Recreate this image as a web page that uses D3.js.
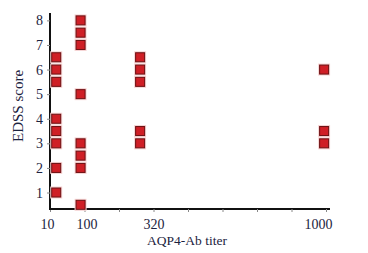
<!DOCTYPE html>
<html>
<head>
<meta charset="utf-8">
<script src="https://cdn.jsdelivr.net/npm/d3@7"></script>
<style>
  body { margin: 0; background: #fff; }
  text { font-family: "Liberation Serif", "DejaVu Serif", serif; fill: #1c2340; }
</style>
</head>
<body>
<div id="chart"></div>
<script>
var svgWidth = 368;
var svgHeight = 253;

// titer groups and EDSS scores
var titers = [10, 10, 10, 10, 10, 10, 10, 10,
              100, 100, 100, 100, 100, 100, 100, 100,
              320, 320, 320, 320, 320,
              1000, 1000, 1000];
var edss = [6.5, 6, 5.5, 4, 3.5, 3, 2, 1,
            8, 7.5, 7, 5, 3, 2.5, 2, 0.5,
            6.5, 6, 5.5, 3.5, 3,
            6, 3.5, 3];

var xTickLabels = ["10", "100", "", "320", "", "", "", "", "1000"];
var yTicks = [1, 2, 3, 4, 5, 6, 7, 8];

var svg = d3.select("#chart")
  .append("svg")
  .attr("width", svgWidth)
  .attr("height", svgHeight);

var xScale = d3.scaleLinear()
  .domain([-13, 1007])
  .range([50, 326]);

var yScale = d3.scaleLinear()
  .domain([0.33, 8.3])
  .range([209, 13]);

// nine evenly spaced ticks along the x axis
var xTicks = d3.range(9).map(i => -13 + i * 127.5);

// x axis
var xAxis = svg.append("g")
  .attr("transform", "translate(0, 209)")
  .call(d3.axisBottom(xScale)
    .tickValues(xTicks)
    .tickSize(3)
    .tickSizeOuter(0)
    .tickFormat((d, i) => xTickLabels[i]));
xAxis.select(".domain")
  .attr("stroke", "#111")
  .attr("stroke-width", 2)
  .attr("d", "M50,0H330");
xAxis.selectAll(".tick line").attr("stroke", "#888");
xAxis.selectAll(".tick text")
  .attr("font-size", 14)
  .attr("y", 10)
  .attr("dy", "0.71em")
  .attr("dx", (d, i) => i === 0 ? -3 : i === 8 ? -8 : (i === 1 ? 2 : 0));

// y axis
var yAxis = svg.append("g")
  .attr("transform", "translate(50, 0)")
  .call(d3.axisLeft(yScale)
    .tickValues(yTicks)
    .tickSize(3)
    .tickSizeOuter(0)
    .tickFormat(d3.format("d")));
yAxis.select(".domain")
  .attr("stroke", "#111")
  .attr("stroke-width", 2)
  .attr("d", "M0,13V210");
yAxis.selectAll(".tick line").attr("stroke", "#888");
yAxis.selectAll(".tick text")
  .attr("font-size", 14)
  .attr("x", -7);

// axis titles
svg.append("text")
  .attr("x", 187)
  .attr("y", 245)
  .attr("text-anchor", "middle")
  .attr("font-size", 13.5)
  .text("AQP4-Ab titer");

svg.append("text")
  .attr("transform", "rotate(-90)")
  .attr("x", -106)
  .attr("y", 23)
  .attr("text-anchor", "middle")
  .attr("font-size", 15)
  .text("EDSS score");

// markers: pale halo, then the red square
var points = titers.map((t, i) => ({ titer: t, score: edss[i] }));

svg.append("g").selectAll("rect")
  .data(points)
  .enter()
  .append("rect")
  .attr("x", d => xScale(d.titer) - 6)
  .attr("y", d => yScale(d.score) - 6)
  .attr("width", 12)
  .attr("height", 12)
  .attr("fill", "#f6d4d4");

svg.append("g").selectAll("rect")
  .data(points)
  .enter()
  .append("rect")
  .attr("x", d => xScale(d.titer) - 4.5)
  .attr("y", d => yScale(d.score) - 4.5)
  .attr("width", 9)
  .attr("height", 9)
  .attr("fill", "#cf1f26")
  .attr("stroke", "#6b1012")
  .attr("stroke-width", 1);
</script>
</body>
</html>
